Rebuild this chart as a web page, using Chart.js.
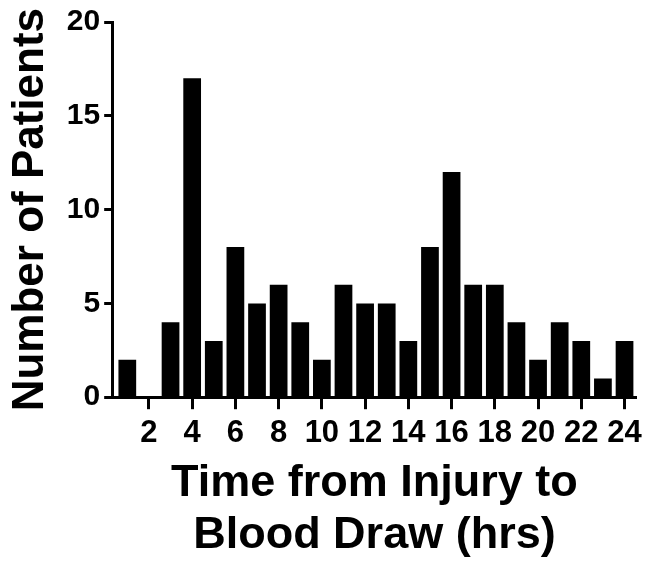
<!DOCTYPE html>
<html>
<head>
<meta charset="utf-8">
<script src="https://cdn.jsdelivr.net/npm/chart.js@4.4.0/dist/chart.umd.min.js"></script>
<style>
  html, body { margin: 0; padding: 0; background: #fff; }
  #wrap { width: 648px; height: 561px; }
</style>
</head>
<body>
<div id="wrap"><canvas id="hist-chart" width="648" height="561"></canvas></div>
<script>
// hours after injury (bins) and patient counts
const hours = [1, 2, 3, 4, 5, 6, 7, 8, 9, 10, 11, 12, 13, 14, 15, 16, 17, 18, 19, 20, 21, 22, 23, 24];
const patients = [2, 0, 4, 17, 3, 8, 5, 6, 4, 2, 6, 5, 5, 3, 8, 12, 6, 6, 4, 2, 4, 3, 1, 3];
const xTicks = [2, 4, 6, 8, 10, 12, 14, 16, 18, 20, 22, 24];
const yTicks = [0, 5, 10, 15, 20];

const font = 'Liberation Sans, Arial, Helvetica, sans-serif';

var ctx = document.getElementById('hist-chart').getContext('2d');
new Chart(ctx, {
    type: 'bar',
    data: {
        labels: hours,
        datasets: [{
            label: 'Number of Patients',
            data: patients,
            backgroundColor: '#000',
            borderWidth: 0,
            categoryPercentage: 1,
            barPercentage: 0.82
        }]
    },
    options: {
        responsive: false,
        animation: false,
        layout: { padding: { top: 18, right: 10, left: 4, bottom: 0 } },
        plugins: {
            legend: { display: false },
            tooltip: { enabled: false }
        },
        scales: {
            x: {
                type: 'linear',
                offset: false,
                min: 0.3,
                max: 24.56,
                afterBuildTicks: axis => { axis.ticks = xTicks.map(v => ({ value: v })); },
                border: { display: true, color: '#000', width: 3 },
                grid: { offset: false, drawOnChartArea: false, drawTicks: true, tickLength: 12, tickWidth: 3, tickColor: '#000' },
                ticks: {
                    color: '#000',
                    padding: 6,
                    maxRotation: 0,
                    autoSkip: false,
                    font: { family: font, size: 31, weight: 'bold' }
                },
                title: {
                    display: true,
                    text: ['Time from Injury to', 'Blood Draw (hrs)'],
                    color: '#000',
                    padding: { top: 0, bottom: 0 },
                    font: { family: font, size: 45, weight: 'bold', lineHeight: 1.14 }
                }
            },
            y: {
                min: 0,
                max: 20,
                afterBuildTicks: axis => { axis.ticks = yTicks.map(v => ({ value: v })); },
                border: { display: true, color: '#000', width: 3 },
                grid: { drawOnChartArea: false, drawTicks: true, tickLength: 8, tickWidth: 3, tickColor: '#000' },
                ticks: {
                    color: '#000',
                    padding: 4,
                    font: { family: font, size: 30, weight: 'bold' }
                },
                title: {
                    display: true,
                    text: 'Number of Patients',
                    color: '#000',
                    padding: { top: 0, bottom: 6 },
                    font: { family: font, size: 44, weight: 'bold' }
                }
            }
        }
    }
});
</script>
</body>
</html>
